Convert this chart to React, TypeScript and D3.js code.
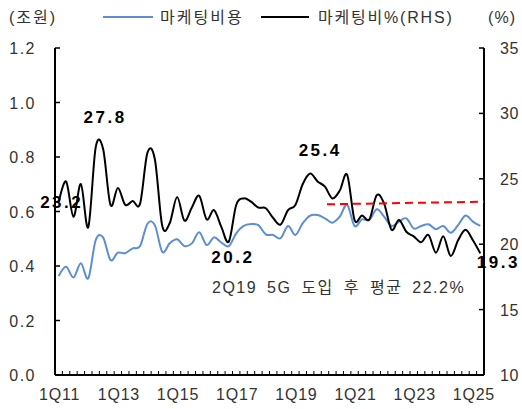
import React from "react";
import * as d3 from "d3";

const quarters: string[] = [];
for (let y = 11; y <= 25; y++) {
  for (let q = 1; q <= 4; q++) {
    if (y === 25 && q > 2) break;
    quarters.push(`${q}Q${y}`);
  }
}

const spending = [
  0.363, 0.397, 0.358, 0.41, 0.355, 0.495, 0.505, 0.422, 0.449, 0.447,
  0.465, 0.473, 0.555, 0.55, 0.452, 0.483, 0.498, 0.473, 0.483, 0.524,
  0.477, 0.505, 0.486, 0.473, 0.52, 0.547, 0.554, 0.55, 0.516, 0.514,
  0.502, 0.547, 0.514, 0.557, 0.585, 0.587, 0.575, 0.559, 0.581, 0.624,
  0.547, 0.571, 0.569, 0.608, 0.581, 0.547, 0.563, 0.575, 0.538, 0.547,
  0.553, 0.535, 0.547, 0.522, 0.55, 0.585, 0.563, 0.547,
];

const ratio = [
  23.2, 24.8, 22.1, 24.6, 21.3, 27.4, 27.3, 23.0, 24.3, 23.0,
  23.3, 23.1, 27.0, 26.5, 21.4, 21.6, 23.6, 21.8, 22.8, 23.7,
  21.9, 22.6, 21.3, 20.2, 23.0, 23.5, 23.25, 22.8, 22.75, 22.0,
  21.5, 22.6, 23.0, 24.6, 25.4, 24.8, 24.4, 23.5, 24.1, 25.3,
  21.85, 22.2, 21.9, 23.75, 23.1, 21.1, 21.85, 20.95, 20.6, 20.15,
  20.7, 19.35, 20.6, 19.1, 20.3, 21.1, 20.3, 19.3,
];

const xTickLabels = ["1Q11", "1Q13", "1Q15", "1Q17", "1Q19", "1Q21", "1Q23", "1Q25"];
const leftTicks = [0, 0.2, 0.4, 0.6, 0.8, 1.0, 1.2];
const rightTicks = [10, 15, 20, 25, 30, 35];

const avgStart = "1Q20";
const avgValues = [23.05, 23.25];

const annotations = [
  { q: "1Q11", v: 23.2, text: "23.2", dx: 3, dy: 6 },
  { q: "3Q12", v: 27.8, text: "27.8", dx: 2, dy: -19 },
  { q: "4Q16", v: 20.2, text: "20.2", dx: 4, dy: 21 },
  { q: "3Q19", v: 25.4, text: "25.4", dx: 10, dy: -18 },
  { q: "2Q25", v: 19.3, text: "19.3", dx: 18, dy: 15 },
];

const FONT = "'Liberation Sans', Arial, 'Noto Sans CJK KR', sans-serif";

export default function App() {
  const left = 55, right = 484, top = 48, bottom = 375;
  const x = d3.scaleBand<string>().domain(quarters).range([left, right]).padding(0);
  const cx = (q: string) => (x(q) as number) + x.bandwidth() / 2;
  const yL = d3.scaleLinear().domain([0, 1.2]).range([bottom, top]);
  const yR = d3.scaleLinear().domain([10, 35]).range([bottom, top]);

  const curve = d3.curveCardinal.tension(0);
  const blueLine = d3.line<number>().x((_, i) => cx(quarters[i])).y((d) => yL(d)).curve(curve);
  const blackLine = d3.line<number>().x((_, i) => cx(quarters[i])).y((d) => yR(d)).curve(curve);

  const boundaries = d3.range(quarters.length + 1).map((i) => left + i * x.bandwidth());
  const axisColor = "#000";
  const labelColor = "#333";

  return (
    <svg width={522} height={409} style={{ position: "absolute", left: 0, top: 0, fontFamily: FONT }}>
      <rect width={522} height={409} fill="#fff" />
      {/* legend */}
      <text x={9} y={23} fontSize={16} fill={labelColor} letterSpacing={2}>(조원)</text>
      <line x1={103} x2={153} y1={17} y2={17} stroke="#5B8ED6" strokeWidth={2} />
      <text x={160} y={23} fontSize={16} fill={labelColor} letterSpacing={2}>마케팅비용</text>
      <line x1={261} x2={309} y1={17} y2={17} stroke="#000" strokeWidth={2} />
      <text x={318} y={23} fontSize={16} fill={labelColor} letterSpacing={1.8}>마케팅비%(RHS)</text>
      <text x={516} y={23} fontSize={16} fill={labelColor} textAnchor="end" letterSpacing={1}>(%)</text>

      {/* left axis */}
      <line x1={left} x2={left} y1={top} y2={bottom} stroke={axisColor} strokeWidth={2} />
      {leftTicks.map((t) => (
        <g key={"l" + t}>
          <line x1={left} x2={left + 5} y1={yL(t)} y2={yL(t)} stroke={axisColor} strokeWidth={1.5} />
          <text x={36} y={yL(t) + 6} fontSize={16} fill={labelColor} textAnchor="end" letterSpacing={1.5}>
            {t.toFixed(1)}
          </text>
        </g>
      ))}
      {/* right axis */}
      <line x1={right} x2={right} y1={top} y2={bottom} stroke={axisColor} strokeWidth={2} />
      {rightTicks.map((t) => (
        <g key={"r" + t}>
          <line x1={right - 5} x2={right} y1={yR(t)} y2={yR(t)} stroke={axisColor} strokeWidth={1.5} />
          <text x={500} y={yR(t) + 6} fontSize={16} fill={labelColor} letterSpacing={0.5}>
            {t}
          </text>
        </g>
      ))}
      {/* x axis */}
      <line x1={left} x2={right} y1={bottom} y2={bottom} stroke={axisColor} strokeWidth={2} />
      {boundaries.map((b, i) => (
        <line key={"b" + i} x1={b} x2={b} y1={bottom} y2={bottom - 4} stroke={axisColor} strokeWidth={1} />
      ))}
      {xTickLabels.map((q) => (
        <text key={q} x={cx(q) + 1} y={400} fontSize={16} fill={labelColor} textAnchor="middle" letterSpacing={0.8}>
          {q}
        </text>
      ))}

      {/* annotation text behind lines */}
      {annotations.map((a) => (
        <text
          key={a.text}
          x={cx(a.q) + a.dx}
          y={yR(a.v) + a.dy}
          fontSize={17}
          fontWeight="bold"
          fill="#000"
          textAnchor="middle"
          letterSpacing={2.5}
        >
          {a.text}
        </text>
      ))}

      {/* series */}
      <path d={blueLine(spending) || ""} fill="none" stroke="#5B8ED6" strokeWidth={2} />
      <path d={blackLine(ratio) || ""} fill="none" stroke="#000" strokeWidth={2} />

      {/* average dashed line */}
      <line
        x1={cx(avgStart) + 2}
        x2={right}
        y1={yR(avgValues[0])}
        y2={yR(avgValues[1])}
        stroke="#FF0000"
        strokeWidth={2}
        strokeDasharray="8,5"
      />
      <text x={212} y={293} fontSize={16} fill={labelColor} letterSpacing={1.5} wordSpacing={4}>
        2Q19 5G 도입 후 평균 22.2%
      </text>
    </svg>
  );
}
